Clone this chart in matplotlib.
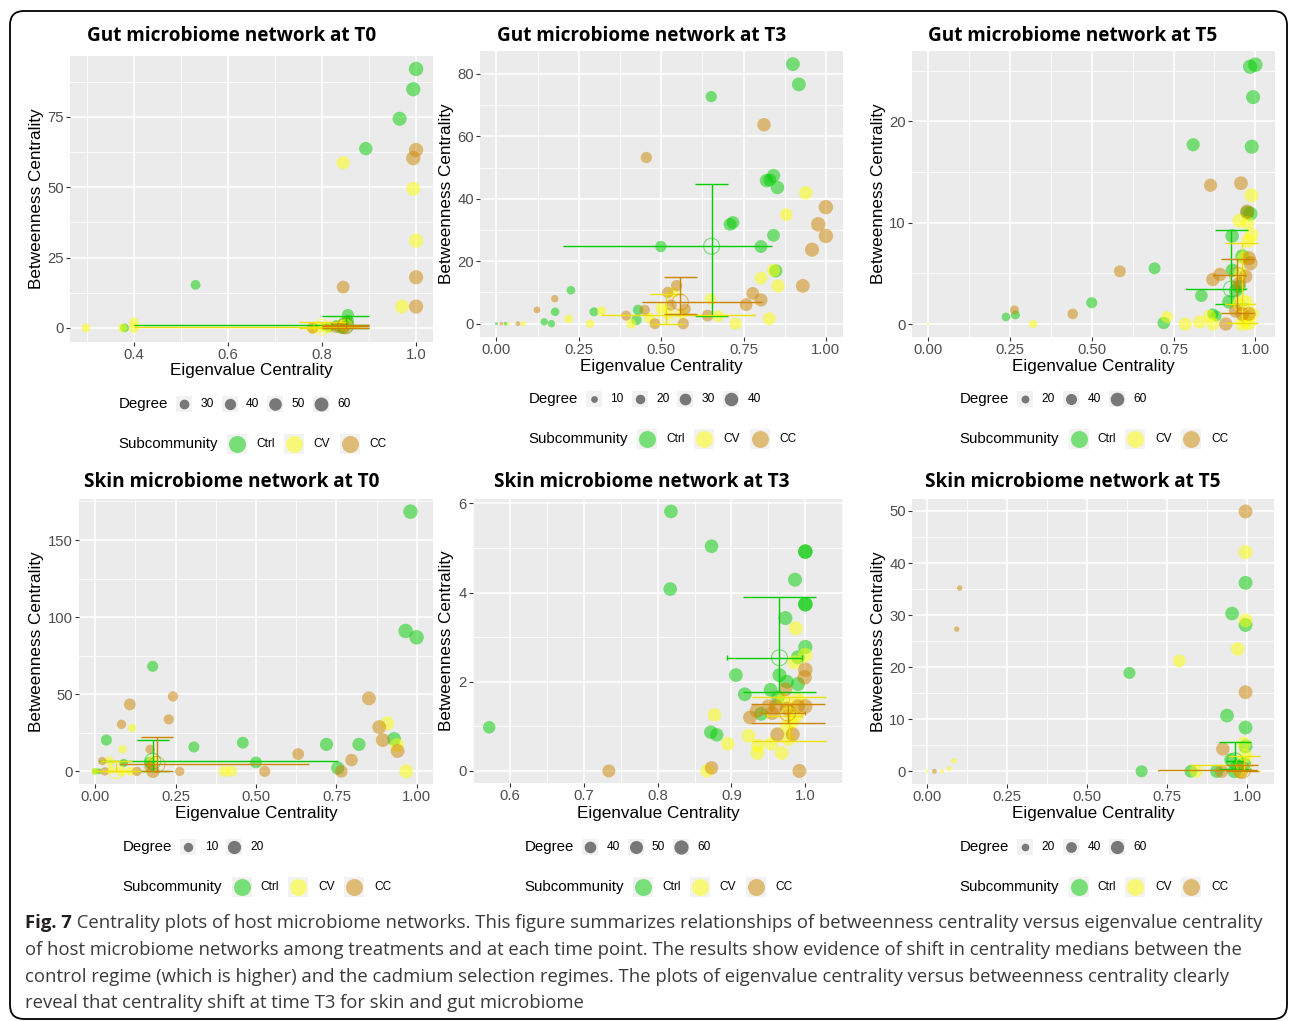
import numpy as np
import matplotlib
matplotlib.use("Agg")
import matplotlib.pyplot as plt
from matplotlib.patches import FancyBboxPatch, Rectangle

plt.rcParams["font.family"] = ["Liberation Sans", "DejaVu Sans"]

# ---------------- data: (eigenvalue, betweenness, degree) ----------------
gut_t0_ctrl = [(1.0, 92, 66), (0.994, 84.8, 64), (0.965, 74.3, 62), (0.893, 63.7, 56),
               (0.531, 15.3, 30), (0.855, 4.6, 46), (0.855, 2.5, 45), (0.85, 1.5, 44),
               (0.83, 0.8, 38), (0.815, 0.3, 34), (0.84, 0.0, 41), (0.38, 0.0, 24)]
gut_t0_cv = [(0.845, 58.7, 54), (0.994, 49.4, 62), (1.0, 31, 63), (0.970, 7.6, 60),
             (0.298, 0, 26), (0.376, 0, 27), (0.40, 2.0, 30), (0.40, 0.0, 30),
             (0.78, 0.0, 41), (0.795, 0.3, 41), (0.81, 0.0, 38), (0.84, 0.8, 45), (0.85, 1.2, 46)]
gut_t0_cc = [(1.0, 63.2, 64), (0.994, 60.3, 64), (1.0, 18, 63), (1.0, 7.6, 63),
             (0.845, 14.5, 52), (0.78, 0.0, 41), (0.845, 0.0, 49), (0.85, 0.5, 46), (0.83, 0.3, 44)]
# (group, median x, median y, x low, x high, y low, y high)
gut_t0_bars = [("Ctrl", 0.85, 1.0, 0.40, 0.90, 0.0, 4.2),
               ("CV", 0.80, 0.3, 0.40, 0.88, 0.0, 2.0),
               ("CC", 0.85, 0.7, 0.80, 0.90, 0.0, 1.0)]

gut_t3_ctrl = [(0.900, 83.1, 42), (0.918, 76.6, 42), (0.652, 72.7, 28), (0.841, 47.4, 40),
               (0.820, 45.8, 40), (0.830, 46.0, 36), (0.853, 43.6, 40), (0.709, 31.8, 36),
               (0.718, 32.4, 36), (0.841, 28.3, 36), (0.803, 24.7, 36), (0.499, 24.7, 28),
               (0.848, 16.9, 38), (0.226, 10.7, 16), (0.178, 3.8, 16), (0.296, 3.8, 18),
               (0.430, 4.4, 24), (0.425, 1.2, 24), (0.145, 0.6, 12), (0.167, 0.0, 12),
               (0.000, 0.0, 2), (0.028, 0.0, 3)]
gut_t3_cv = [(0.939, 41.9, 40), (0.880, 34.9, 36), (0.803, 14.6, 36), (0.841, 17.1, 38),
             (0.855, 12.1, 38), (0.828, 1.6, 36), (0.726, 0.0, 32), (0.673, 2.4, 30),
             (0.650, 7.9, 30), (0.319, 4.0, 20), (0.219, 1.5, 16), (0.284, 0.0, 16),
             (0.409, 0.0, 22), (0.464, 1.9, 26), (0.500, 5.0, 28), (0.520, 3.0, 28),
             (0.536, 9.9, 28), (0.562, 3.2, 30), (0.081, 0.0, 6), (0.035, 0.0, 3)]
gut_t3_cc = [(0.812, 63.7, 40), (0.455, 53.2, 28), (1.000, 37.3, 46), (0.977, 31.8, 46),
             (1.000, 28.1, 46), (0.958, 23.7, 44), (0.930, 12.1, 42), (0.778, 9.7, 36),
             (0.803, 7.6, 38), (0.758, 6.1, 36), (0.547, 12.2, 28), (0.520, 10.0, 28),
             (0.573, 4.7, 28), (0.450, 4.4, 24), (0.394, 2.6, 22), (0.481, 0.0, 26),
             (0.567, 0.0, 28), (0.641, 2.6, 30), (0.530, 6.0, 28), (0.177, 8.0, 12),
             (0.123, 4.4, 10), (0.065, 0.0, 5), (0.015, 0.0, 3)]
gut_t3_bars = [("Ctrl", 0.653, 24.8, 0.202, 0.837, 2.5, 44.8),
               ("CV", 0.516, 2.9, 0.320, 0.784, 0.0, 9.4),
               ("CC", 0.558, 6.9, 0.441, 0.805, 3.0, 15.1)]

gut_t5_ctrl = [(0.984, 25.4, 66), (1.000, 25.6, 68), (0.993, 22.4, 64), (0.989, 17.5, 64),
               (0.810, 17.7, 56), (0.985, 10.9, 64), (0.975, 11.0, 62), (0.929, 8.7, 60),
               (0.930, 5.3, 60), (0.692, 5.5, 46), (0.835, 2.8, 52), (0.500, 2.1, 40),
               (0.920, 2.2, 62), (0.940, 3.3, 60), (0.950, 3.7, 60), (0.267, 0.9, 26),
               (0.238, 0.7, 24), (0.720, 0.1, 50), (0.870, 1.0, 40), (0.880, 0.8, 40),
               (0.960, 6.7, 62)]
gut_t5_cv = [(0.988, 12.7, 64), (0.951, 10.2, 64), (0.976, 10.0, 62), (0.988, 8.8, 64),
             (0.978, 8.2, 62), (0.965, 6.5, 62), (0.955, 5.0, 60), (0.950, 2.0, 60),
             (0.970, 2.2, 62), (0.730, 0.7, 46), (0.321, 0.0, 22), (0.000, 0.0, 2),
             (0.786, 0.0, 56), (0.830, 0.2, 56), (0.870, 0.0, 56), (0.860, 0.8, 52),
             (0.960, 0.0, 66), (0.970, 0.3, 66), (0.980, 0.1, 66), (0.990, 1.0, 60)]
gut_t5_cc = [(0.956, 13.9, 62), (0.863, 13.7, 56), (0.586, 5.2, 46), (0.442, 1.0, 36),
             (0.264, 1.4, 26), (0.975, 11.1, 64), (0.980, 6.5, 66), (0.985, 6.0, 66),
             (0.970, 4.7, 62), (0.892, 4.9, 58), (0.870, 4.4, 58), (0.910, 0.0, 58),
             (0.960, 1.0, 62), (0.980, 1.0, 64), (0.950, 4.0, 60), (0.940, 1.3, 60)]
gut_t5_bars = [("Ctrl", 0.927, 3.46, 0.787, 0.972, 1.94, 9.28),
               ("CV", 0.958, 2.0, 0.908, 1.0, 0.15, 8.0),
               ("CC", 0.945, 4.8, 0.870, 0.972, 1.1, 6.45)]

skin_t0_ctrl = [(0.980, 168.4, 24), (0.965, 91.0, 24), (0.999, 86.9, 24), (0.179, 68.1, 14),
                (0.035, 20.3, 14), (0.307, 15.8, 14), (0.459, 18.6, 16), (0.719, 17.5, 20),
                (0.820, 17.5, 20), (0.929, 21.0, 22), (0.500, 5.8, 16), (0.754, 2.1, 20),
                (0.089, 5.4, 8), (0.000, 0.0, 5), (0.012, 0.0, 4), (0.170, 6.0, 14)]
skin_t0_cv = [(0.908, 31.1, 22), (0.938, 17.0, 22), (0.967, 0.0, 22), (0.115, 28.1, 8),
              (0.085, 14.3, 8), (0.044, 6.7, 10), (0.080, 0.0, 12), (0.110, 0.0, 10),
              (0.401, 0.0, 14), (0.424, 0.0, 14), (0.000, 0.0, 6), (0.050, 1.0, 8),
              (0.180, 7.0, 16)]
skin_t0_cc = [(0.851, 47.3, 22), (0.883, 28.7, 22), (0.894, 20.3, 22), (0.940, 13.2, 22),
              (0.797, 7.3, 18), (0.765, 0.0, 18), (0.631, 11.2, 16), (0.527, 0.0, 14),
              (0.242, 48.6, 12), (0.108, 43.4, 16), (0.229, 33.7, 12), (0.082, 30.5, 10),
              (0.171, 14.3, 10), (0.022, 6.7, 8), (0.030, 0.0, 8), (0.130, 0.0, 10),
              (0.180, 0.0, 20), (0.263, 0.0, 10), (0.170, 3.0, 14)]
skin_t0_bars = [("Ctrl", 0.179, 6.5, 0.012, 0.754, 0.0, 20.3),
                ("CV", 0.066, 0.5, 0.0, 0.20, 0.0, 7.0),
                ("CC", 0.192, 4.5, 0.075, 0.664, 0.0, 22.2)]

skin_t3_ctrl = [(0.818, 5.82, 55), (0.873, 5.04, 55), (0.817, 4.08, 55), (1.000, 4.92, 62),
                (1.000, 4.92, 62), (0.986, 4.29, 58), (1.000, 3.74, 62), (1.000, 3.74, 62),
                (0.973, 3.43, 58), (1.000, 2.78, 60), (0.990, 2.55, 58), (0.906, 2.15, 56),
                (0.965, 2.15, 58), (0.975, 2.00, 58), (0.990, 1.95, 58), (0.953, 1.82, 56),
                (0.918, 1.72, 56), (0.963, 1.65, 56), (0.940, 1.28, 56), (0.572, 0.98, 46),
                (0.872, 0.87, 54), (0.880, 0.81, 54)]
skin_t3_cv = [(0.987, 3.20, 58), (1.000, 2.60, 62), (0.985, 2.44, 60), (0.877, 1.26, 54),
              (0.923, 0.79, 56), (0.895, 0.61, 54), (0.936, 0.57, 56), (0.935, 0.40, 56),
              (0.954, 0.61, 56), (0.968, 0.40, 56), (0.977, 0.72, 58), (0.867, 0.00, 54),
              (0.970, 1.60, 60), (0.978, 1.38, 60), (0.987, 1.24, 60), (0.982, 1.10, 60),
              (0.975, 1.00, 60), (0.990, 1.60, 60)]
skin_t3_cc = [(0.734, 0.00, 50), (0.873, 0.07, 54), (0.992, 0.00, 58), (1.000, 2.27, 62),
              (0.999, 2.10, 62), (1.000, 1.45, 62), (0.990, 1.45, 60), (0.934, 1.35, 56),
              (0.925, 1.20, 56), (0.955, 1.30, 58), (0.973, 1.83, 58), (0.962, 0.82, 58),
              (0.983, 0.82, 58), (0.960, 1.45, 58), (0.975, 1.40, 58), (0.950, 1.45, 58)]
skin_t3_bars = [("Ctrl", 0.965, 2.54, 0.894, 0.996, 1.77, 3.91),
                ("CV", 0.978, 1.24, 0.948, 0.996, 0.67, 1.66),
                ("CC", 0.976, 1.30, 0.940, 1.000, 1.08, 1.51)]

skin_t5_ctrl = [(0.995, 36.2, 66), (0.953, 30.3, 64), (0.995, 28.1, 66), (0.632, 18.9, 50),
                (0.937, 10.7, 64), (0.995, 8.4, 66), (0.995, 4.8, 66), (0.670, 0.0, 50),
                (0.824, 0.0, 56), (0.905, 0.0, 60), (0.950, 2.2, 64), (0.970, 1.0, 64),
                (0.960, 0.0, 64), (0.990, 1.5, 66)]
skin_t5_cv = [(0.995, 42.1, 66), (0.995, 29.0, 66), (0.970, 23.5, 64), (0.788, 21.2, 56),
              (0.990, 5.3, 66), (0.995, 3.0, 66), (0.840, 0.0, 58), (0.084, 2.0, 10),
              (0.068, 0.5, 8), (0.046, 0.0, 5), (0.000, 0.0, 3), (0.980, 0.0, 68)]
skin_t5_cc = [(0.995, 49.9, 66), (0.995, 15.2, 66), (0.924, 4.3, 62), (0.101, 35.2, 10),
              (0.092, 27.3, 10), (0.022, 0.0, 8), (0.920, 0.0, 60), (0.980, 0.0, 72)]
skin_t5_bars = [("Ctrl", 0.962, 2.0, 0.935, 0.990, 0.5, 5.6),
                ("CV", 0.990, 1.3, 0.826, 1.020, 0.0, 3.0),
                ("CC", 0.985, 0.2, 0.720, 1.030, 0.0, 1.15)]

caption_lines = [
    "Centrality plots of host microbiome networks. This figure summarizes relationships of betweenness centrality versus eigenvalue centrality",
    "of host microbiome networks among treatments and at each time point. The results show evidence of shift in centrality medians between the",
    "control regime (which is higher) and the cadmium selection regimes. The plots of eigenvalue centrality versus betweenness centrality clearly",
    "reveal that centrality shift at time T3 for skin and gut microbiome",
]

# ---------------- layout (pixels of the 1290x1021 canvas) ----------------
W, H = 1290, 1021
GROUPS = ["Ctrl", "CV", "CC"]
FILL = {"Ctrl": "#00CD00", "CV": "#FFFF00", "CC": "#CD8500"}
LINE = {"Ctrl": "#00CD00", "CV": "#EEE000", "CC": "#CD8500"}

x01 = [0, 0.25, 0.5, 0.75, 1.0]
x01_lab = ["0.00", "0.25", "0.50", "0.75", "1.00"]
x01_minor = [0.125, 0.375, 0.625, 0.875]

panels = [
    dict(title="Gut microbiome network at T0", tpos=(232, 36, 292),
         box=(70, 56, 433, 342), xlim=(0.264, 1.036), ylim=(-5.0, 96.6),
         xt=[0.4, 0.6, 0.8, 1.0], xtl=["0.4", "0.6", "0.8", "1.0"], xm=[0.3, 0.5, 0.7, 0.9],
         yt=[0, 25, 50, 75], ym=[12.5, 37.5, 62.5, 87.5],
         ylab_x=37, xlab_y=370, leg=(118.3, 404, 444), breaks=[30, 40, 50, 60],
         pts=dict(Ctrl=gut_t0_ctrl, CV=gut_t0_cv, CC=gut_t0_cc), bars=gut_t0_bars),
    dict(title="Gut microbiome network at T3", tpos=(641.7, 36, 292),
         box=(480, 51, 843, 337), xlim=(-0.05, 1.052), ylim=(-4.26, 87.3),
         xt=x01, xtl=x01_lab, xm=x01_minor, yt=[0, 20, 40, 60, 80], ym=[10, 30, 50, 70],
         ylab_x=447, xlab_y=366, leg=(528.3, 399.3, 439.3), breaks=[10, 20, 30, 40],
         pts=dict(Ctrl=gut_t3_ctrl, CV=gut_t3_cv, CC=gut_t3_cc), bars=gut_t3_bars),
    dict(title="Gut microbiome network at T5", tpos=(1073, 36, 292),
         box=(912, 51, 1275, 337), xlim=(-0.049, 1.06), ylim=(-1.28, 26.95),
         xt=x01, xtl=x01_lab, xm=x01_minor, yt=[0, 10, 20], ym=[5, 15, 25],
         ylab_x=878, xlab_y=366, leg=(959.7, 399.3, 439.3), breaks=[20, 40, 60],
         pts=dict(Ctrl=gut_t5_ctrl, CV=gut_t5_cv, CC=gut_t5_cc), bars=gut_t5_bars),
    dict(title="Skin microbiome network at T0", tpos=(231.5, 482, 297.6),
         box=(79, 499, 433, 784), xlim=(-0.05, 1.05), ylim=(-8.2, 176.6),
         xt=x01, xtl=x01_lab, xm=x01_minor, yt=[0, 50, 100, 150], ym=[25, 75, 125, 175],
         ylab_x=37, xlab_y=813, leg=(122.7, 846.7, 886.7), breaks=[10, 20],
         pts=dict(Ctrl=skin_t0_ctrl, CV=skin_t0_cv, CC=skin_t0_cc), bars=skin_t0_bars),
    dict(title="Skin microbiome network at T3", tpos=(641.7, 482, 297),
         box=(473, 499, 843, 783), xlim=(0.551, 1.051), ylim=(-0.27, 6.1),
         xt=[0.6, 0.7, 0.8, 0.9, 1.0], xtl=["0.6", "0.7", "0.8", "0.9", "1.0"],
         xm=[0.55, 0.65, 0.75, 0.85, 0.95, 1.05], yt=[0, 2, 4, 6], ym=[1, 3, 5],
         ylab_x=447, xlab_y=813, leg=(524.3, 846.7, 886.7), breaks=[40, 50, 60],
         pts=dict(Ctrl=skin_t3_ctrl, CV=skin_t3_cv, CC=skin_t3_cc), bars=skin_t3_bars),
    dict(title="Skin microbiome network at T5", tpos=(1073, 482, 297.4),
         box=(912, 499, 1274, 784), xlim=(-0.048, 1.084), ylim=(-2.44, 52.3),
         xt=x01, xtl=x01_lab, xm=x01_minor, yt=[0, 10, 20, 30, 40, 50],
         ym=[5, 15, 25, 35, 45],
         ylab_x=878, xlab_y=813, leg=(959.7, 846.7, 886.7), breaks=[20, 40, 60],
         pts=dict(Ctrl=skin_t5_ctrl, CV=skin_t5_cv, CC=skin_t5_cc), bars=skin_t5_bars),
]

DMAX = 14.5  # px diameter of the largest degree in a panel


def dot_area(d, hi):
    # area proportional to degree, largest degree -> DMAX
    dia = DMAX * np.sqrt(np.clip(np.asarray(d, float) / hi, 0, 1.2))
    return (dia * 0.72) ** 2


fig = plt.figure(figsize=(W / 100, H / 100), dpi=100)
ov = fig.add_axes([0, 0, 1, 1])
ov.set_xlim(0, W)
ov.set_ylim(H, 0)
ov.axis("off")
rend = fig.canvas.get_renderer()


def fit_width(t, target):
    w = t.get_window_extent(rend).width
    t.set_fontsize(t.get_fontsize() * target / w)


ov.add_patch(FancyBboxPatch((10, 11), 1277, 1008, boxstyle="round,pad=0,rounding_size=14",
                            fc="none", ec="black", lw=1.3, clip_on=False))

for p in panels:
    l, t, r, b = p["box"]
    ax = fig.add_axes([l / W, 1 - b / H, (r - l) / W, (b - t) / H])
    ax.set_facecolor("#EBEBEB")
    for s in ax.spines.values():
        s.set_visible(False)
    ax.set_xlim(p["xlim"])
    ax.set_ylim(p["ylim"])
    ax.set_xticks(p["xt"])
    ax.set_xticklabels(p["xtl"])
    ax.set_yticks(p["yt"])
    ax.set_xticks(p["xm"], minor=True)
    ax.set_yticks(p["ym"], minor=True)
    ax.grid(which="major", color="white", lw=1.1)
    ax.grid(which="minor", color="white", lw=0.55)
    ax.set_axisbelow(True)
    ax.tick_params(which="minor", length=0)
    ax.tick_params(which="major", length=3, width=0.8, color="#333333",
                   labelsize=10.7, labelcolor="#4D4D4D", pad=1.5)

    hi = max(q[2] for g in GROUPS for q in p["pts"][g])
    for g in GROUPS:
        arr = np.array(p["pts"][g], float)
        ax.scatter(arr[:, 0], arr[:, 1], s=dot_area(arr[:, 2], hi),
                   color=FILL[g], alpha=0.5, lw=0, zorder=2)
    for g, mx, my, xlo, xhi, ylo, yhi in p["bars"]:
        kw = dict(color=LINE[g], lw=1.0, zorder=3, solid_capstyle="butt")
        ax.plot([xlo, xhi], [my, my], **kw)
        ax.plot([mx, mx], [ylo, yhi], **kw)
        for yy in (ylo, yhi):
            ax.plot([mx - 0.05, mx + 0.05], [yy, yy], **kw)
        for xx in (xlo, xhi):
            ax.plot([xx, xx], [my - 0.05, my + 0.05], **kw)
        ax.scatter([mx], [my], s=(16 * 0.72) ** 2, facecolors="none",
                   edgecolors=FILL[g], alpha=0.5, lw=0.8, zorder=3)

    # titles and axis labels
    cx, cy, tw = p["tpos"]
    tt = ov.text(cx, cy, p["title"], ha="center", va="center", fontsize=14,
                 fontweight="bold", family=["Open Sans", "DejaVu Sans"])
    fit_width(tt, tw)
    ov.text(p["ylab_x"], (t + b) / 2, "Betweenness Centrality", rotation=90,
            ha="center", va="center", fontsize=12.3)
    ov.text((l + r) / 2, p["xlab_y"], "Eigenvalue Centrality", ha="center",
            va="center", fontsize=12.3)

    # legends
    tx, dy, sy = p["leg"]
    ov.text(tx, dy, "Degree", ha="left", va="center", fontsize=10.8)
    for i, br in enumerate(p["breaks"]):
        kx = tx + 65.6 + i * 45.7
        ov.add_patch(Rectangle((kx - 8, dy - 8), 16, 16, color="#F2F2F2", lw=0))
        ov.scatter([kx], [dy], s=dot_area(br, hi), color="black", alpha=0.5, lw=0)
        ov.text(kx + 23, dy, str(br), ha="center", va="center", fontsize=8.6)
    ov.text(tx, sy, "Subcommunity", ha="left", va="center", fontsize=10.8)
    for i, g in enumerate(GROUPS):
        kx = tx + 118.9 + i * 56.4
        ov.add_patch(Rectangle((kx - 10, sy - 10), 20, 20, color="#F2F2F2", lw=0))
        ov.scatter([kx], [sy], s=(17 * 0.72) ** 2, color=FILL[g], alpha=0.5, lw=0)
        ov.text(kx + 28.3, sy, g, ha="center", va="center", fontsize=8.6)

# caption
cap_font = ["Open Sans", "DejaVu Sans"]
cap_y = [923, 950, 977, 1003]
fs = 12.0
for _ in range(2):
    b1 = ov.text(25, cap_y[0], "Fig. 7", fontweight="bold", fontsize=fs, family=cap_font,
                 va="center", ha="left", color="#231F20")
    w_b = b1.get_window_extent(rend).width
    r1 = ov.text(25 + w_b, cap_y[0], " " + caption_lines[0], fontsize=fs, family=cap_font,
                 va="center", ha="left", color="#3A3A3A")
    total = w_b + r1.get_window_extent(rend).width
    b1.remove()
    r1.remove()
    fs *= 1232 / total
b1 = ov.text(25, cap_y[0], "Fig. 7", fontweight="bold", fontsize=fs, family=cap_font,
             va="center", ha="left", color="#231F20")
w_b = b1.get_window_extent(rend).width
ov.text(25 + w_b, cap_y[0], " " + caption_lines[0], fontsize=fs, family=cap_font,
        va="center", ha="left", color="#3A3A3A")
for line, yy in zip(caption_lines[1:], cap_y[1:]):
    ov.text(25, yy, line, fontsize=fs, family=cap_font, va="center", ha="left", color="#3A3A3A")

fig.savefig("out.png", dpi=100)
